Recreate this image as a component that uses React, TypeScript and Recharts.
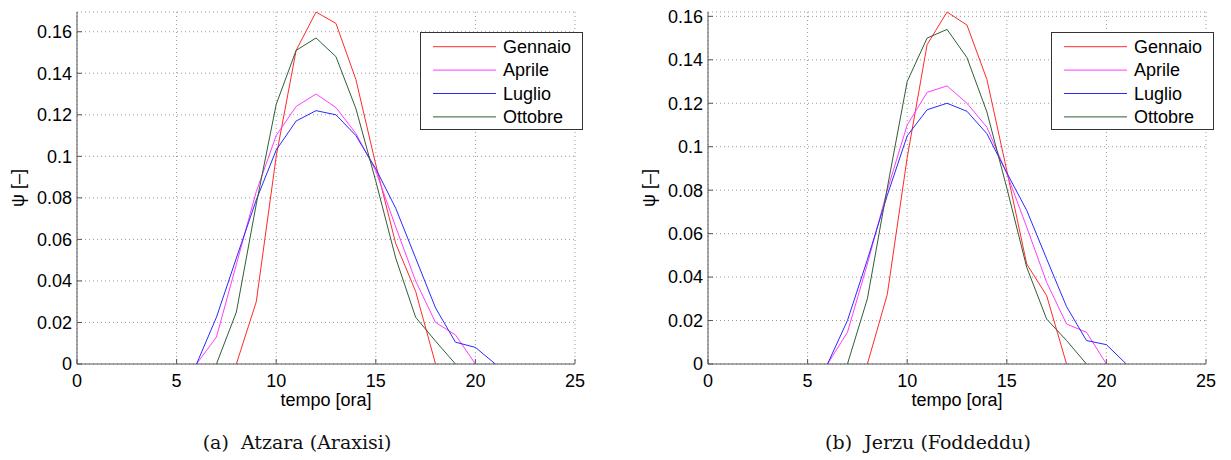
import React from "react";
import {
  LineChart,
  Line,
  XAxis,
  YAxis,
  CartesianGrid,
  Legend,
  Label,
} from "recharts";

const _ = null;

const hours = [0, 1, 2, 3, 4, 5, 6, 7, 8, 9, 10, 11, 12, 13, 14, 15, 16, 17, 18, 19, 20, 21, 22, 23, 24];
const xTicks = [0, 5, 10, 15, 20, 25];
const yTicks = [0, 0.02, 0.04, 0.06, 0.08, 0.1, 0.12, 0.14, 0.16];

// (a) Atzara (Araxisi)
const atzaraGennaio = [_, _, _, _, _, _, _, _, 0, 0.03, 0.1, 0.151, 0.1695, 0.164, 0.137, 0.096, 0.058, 0.035, 0, _, _, _, _, _, _];
const atzaraAprile = [_, _, _, _, _, _, 0, 0.013, 0.048, 0.083, 0.11, 0.124, 0.13, 0.1235, 0.111, 0.093, 0.066, 0.04, 0.02, 0.014, 0, _, _, _, _];
const atzaraLuglio = [_, _, _, _, _, _, 0, 0.0225, 0.051, 0.079, 0.103, 0.117, 0.122, 0.12, 0.11, 0.094, 0.075, 0.051, 0.027, 0.0105, 0.008, 0, _, _, _];
const atzaraOttobre = [_, _, _, _, _, _, _, 0, 0.025, 0.077, 0.125, 0.151, 0.157, 0.148, 0.123, 0.088, 0.051, 0.0225, 0.011, 0, _, _, _, _, _];

// (b) Jerzu (Foddeddu)
const jerzuGennaio = [_, _, _, _, _, _, _, _, 0, 0.032, 0.095, 0.147, 0.162, 0.156, 0.131, 0.089, 0.046, 0.0315, 0, _, _, _, _, _, _];
const jerzuAprile = [_, _, _, _, _, _, 0, 0.0146, 0.046, 0.08, 0.11, 0.125, 0.128, 0.12, 0.109, 0.0876, 0.063, 0.0376, 0.0184, 0.0146, 0, _, _, _, _];
const jerzuLuglio = [_, _, _, _, _, _, 0, 0.02, 0.048, 0.0776, 0.105, 0.117, 0.12, 0.1163, 0.106, 0.088, 0.0707, 0.0484, 0.0264, 0.0108, 0.0089, 0, _, _, _];
const jerzuOttobre = [_, _, _, _, _, _, _, 0, 0.03, 0.081, 0.13, 0.15, 0.154, 0.141, 0.116, 0.081, 0.0445, 0.0207, 0.0108, 0, _, _, _, _, _];

const seriesNames = ["Gennaio", "Aprile", "Luglio", "Ottobre"];
const seriesColors = ["#ff2a2a", "#ff3cff", "#2a2aff", "#2f5f35"];

const FONT = '"Liberation Sans", Arial, Helvetica, sans-serif';
const SERIF = '"DejaVu Serif", "Liberation Serif", serif';

function buildRows(cols: (number | null)[][]) {
  return hours.map((h, i) => {
    const row: Record<string, number | null> = { hour: h };
    seriesNames.forEach((name, k) => {
      row[name] = cols[k][i];
    });
    return row;
  });
}

const atzaraData = buildRows([atzaraGennaio, atzaraAprile, atzaraLuglio, atzaraOttobre]);
const jerzuData = buildRows([jerzuGennaio, jerzuAprile, jerzuLuglio, jerzuOttobre]);

// matlab-style boxed legend, in series order
function BoxLegend() {
  return (
    <svg width={163} height={98} style={{ display: "block" }}>
      <rect x={0.5} y={0.5} width={162} height={97} fill="#fff" stroke="#333" />
      {seriesNames.map((name, i) => {
        const cy = 14.7 + i * 23.4;
        return (
          <g key={name}>
            <line x1={13} x2={76} y1={cy} y2={cy} stroke={seriesColors[i]} strokeWidth={1} />
            <text x={83} y={cy} dominantBaseline="central" fontSize={18} fill="#000" fontFamily={FONT}>
              {name}
            </text>
          </g>
        );
      })}
    </svg>
  );
}

function YTitle({ viewBox }: any) {
  const cy = viewBox.y + viewBox.height / 2;
  return (
    <text
      transform={`translate(18,${cy}) rotate(-90)`}
      textAnchor="middle"
      dominantBaseline="central"
      fontSize={18}
      fontFamily={FONT}
      fill="#000"
    >
      ψ [–]
    </text>
  );
}

function Panel({ data, caption }: { data: any[]; caption: string }) {
  return (
    <div style={{ position: "relative", width: 600, height: 460 }}>
      <LineChart
        width={600}
        height={420}
        data={data}
        margin={{ top: 12, right: 25, bottom: 6, left: 7 }}
        style={{ fontFamily: FONT }}
      >
        <CartesianGrid stroke="#9a9a9a" strokeDasharray="1 3" />
        <XAxis
          dataKey="hour"
          type="number"
          domain={[0, 25]}
          ticks={xTicks}
          interval={0}
          height={50}
          tickSize={-5}
          tickMargin={15}
          stroke="#555"
          tick={{ fontSize: 18, fill: "#000" }}
        >
          <Label value="tempo [ora]" position="insideBottom" offset={8} fontSize={18} fill="#000" />
        </XAxis>
        <YAxis
          type="number"
          domain={[0, "dataMax"]}
          ticks={yTicks}
          interval={0}
          width={70}
          tickSize={-5}
          tickMargin={10}
          stroke="#555"
          tick={{ fontSize: 18, fill: "#000" }}
        >
          <Label content={YTitle} />
        </YAxis>
        <Legend
          layout="vertical"
          align="center"
          verticalAlign="middle"
          content={BoxLegend}
          wrapperStyle={{ left: 420, top: 32, width: 163, height: 98 }}
        />
        {seriesNames.map((name, k) => (
          <Line
            key={name}
            type="linear"
            dataKey={name}
            stroke={seriesColors[k]}
            strokeWidth={1}
            dot={false}
            activeDot={false}
            isAnimationActive={false}
          />
        ))}
      </LineChart>
      <div
        style={{
          position: "absolute",
          left: 0,
          width: 594,
          top: 431,
          textAlign: "center",
          fontFamily: SERIF,
          fontSize: 19,
          whiteSpace: "pre",
          color: "#111",
        }}
      >
        {caption}
      </div>
    </div>
  );
}

export default function App() {
  return (
    <div
      style={{
        position: "absolute",
        left: 0,
        top: 0,
        width: 1231,
        height: 460,
        background: "#fff",
        overflow: "hidden",
      }}
    >
      <div style={{ position: "absolute", left: 0, top: 0 }}>
        <Panel data={atzaraData} caption={"(a)  Atzara (Araxisi)"} />
      </div>
      <div style={{ position: "absolute", left: 631, top: 0 }}>
        <Panel data={jerzuData} caption={"(b)  Jerzu (Foddeddu)"} />
      </div>
    </div>
  );
}
